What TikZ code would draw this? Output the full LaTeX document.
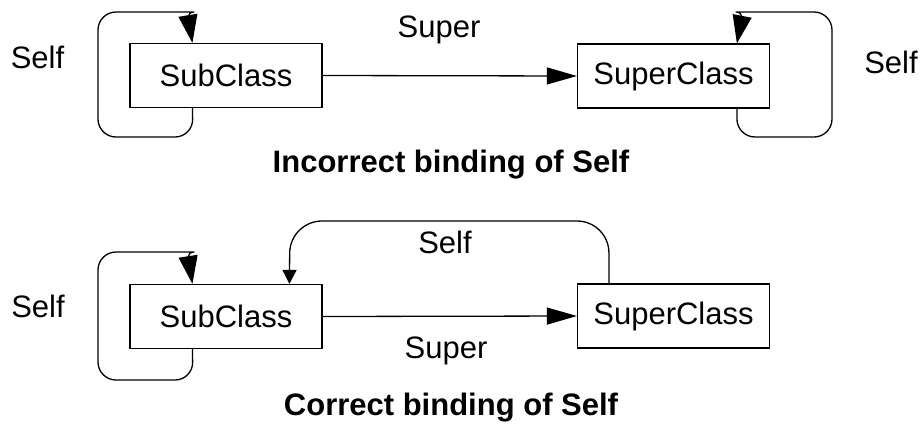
\documentclass[tikz,border=0pt]{standalone}
\usepackage{fontspec}
\setmainfont{Liberation Sans}
\usetikzlibrary{arrows.meta,calc}
\begin{document}
\begin{tikzpicture}[x=1pt,y=-1pt]
\tikzset{
  cls/.style={draw, line width=1.2pt, minimum width=192pt, minimum height=64pt, inner sep=0pt, font=\fontsize{31}{37}\selectfont},
  lbl/.style={font=\fontsize{31}{37}\selectfont, inner sep=0pt, anchor=base},
  ttl/.style={font=\bfseries\fontsize{31}{37}\selectfont, inner sep=0pt, anchor=base},
  conn/.style={line width=1.3pt, line join=round},
  bigtip/.style={-{Triangle[length=28pt,width=19pt]}},
  supertip/.style={-{Triangle[length=30pt,width=17pt]}},
  smalltip/.style={-{Triangle[length=14pt,width=14pt]}},
}
\useasboundingbox[fill=white] (0,0) rectangle (924,437);

% ---------- Incorrect binding ----------
\node[cls] (sub1) at (226,75.5) {SubClass};
\node[cls] (sup1) at (673.5,76) {SuperClass};
\draw[conn,supertip] (sub1.east) -- (sup1.west);

\coordinate (s1b) at ($(sub1.south west)+(63,0)$);
\coordinate (s1t) at ($(sub1.north west)+(63,0)$);
\draw[conn,bigtip] (s1b) [rounded corners=18] -- (193,137) -- (98,137) -- (98,12) -- (176,12) [sharp corners]
  .. controls (186,12) and (189,22) .. (s1t);

\coordinate (p1b) at ($(sup1.south west)+(160,0)$);
\coordinate (p1t) at ($(sup1.north west)+(160,0)$);
\draw[conn,bigtip] (p1b) [rounded corners=18] -- (737,137) -- (832,137) -- (832,12) -- (754,12) [sharp corners]
  .. controls (744,12) and (741,22) .. (p1t);

\node[lbl] (selfA) at (37.5,68) {Self};
\node[lbl] (superA) at (439,37) {Super};
\node[lbl] (selfB) at (891,73) {Self};
\node[ttl] (titleA) at (451,172) {Incorrect binding of Self};

% ---------- Correct binding ----------
\node[cls] (sub2) at (226,316.5) {SubClass};
\node[cls] (sup2) at (673.5,316) {SuperClass};
\draw[conn,supertip] (sub2.east) -- (sup2.west);

\coordinate (s2b) at ($(sub2.south west)+(63,0)$);
\coordinate (s2t) at ($(sub2.north west)+(63,0)$);
\draw[conn,bigtip] (s2b) [rounded corners=18] -- (193,380) -- (98,380) -- (98,252) -- (176,252) [sharp corners]
  .. controls (186,252) and (189,262) .. (s2t);

\coordinate (p2t) at ($(sup2.north west)+(32,0)$);
\coordinate (s2t2) at ($(sub2.north west)+(160,0)$);
\draw[conn,smalltip] (p2t) [rounded corners=32] -- (609,221) -- (290,221) -- (s2t2);

\node[lbl] (selfC) at (38,317) {Self};
\node[lbl] (selfD) at (445,253) {Self};
\node[lbl] (superB) at (446,358) {Super};
\node[ttl] (titleB) at (451,415) {Correct binding of Self};
\end{tikzpicture}
\end{document}
